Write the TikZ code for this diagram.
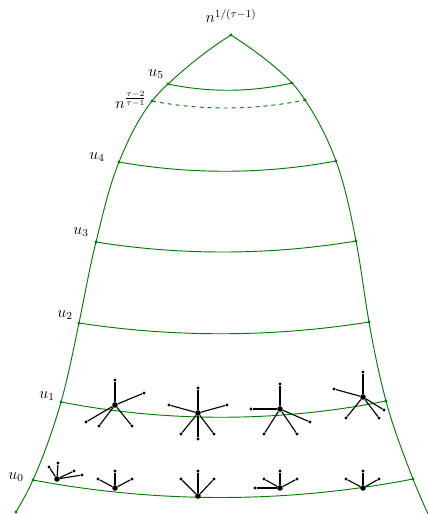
\documentclass[tikz,border=0pt]{standalone}
\usetikzlibrary{calc}
\definecolor{gr}{RGB}{0,125,0}
\tikzset{
  gline/.style={gr, line width=0.7pt},
  gdot/.style={circle, fill=gr, inner sep=0pt, minimum size=2.3pt},
  hub/.style={circle, fill=black, inner sep=0pt, minimum size=4.2pt},
  leaf/.style={circle, fill=black, inner sep=0pt, minimum size=2.3pt},
  edge/.style={black, line width=0.85pt},
  lab/.style={inner sep=1pt, font=\large}
}
\newcommand{\band}[4]{% left, right, sag-control y, style
  \draw[gline,#4] (#1) .. controls ($(#1)!0.33!(#2)+(0,#3)$) and ($(#1)!0.67!(#2)+(0,#3)$) .. (#2);}
\begin{document}
\begin{tikzpicture}[x=0.75pt,y=-0.75pt]
\useasboundingbox (0,0) rectangle (428,514);
% boundary points
\coordinate (top) at (231,35);
\coordinate (L5) at (168,84);  \coordinate (R5) at (292,83);
\coordinate (Ld) at (152,101); \coordinate (Rd) at (305,100);
\coordinate (L4) at (119,162); \coordinate (R4) at (336,161);
\coordinate (L3) at (96,242);  \coordinate (R3) at (356,241);
\coordinate (L2) at (79,323);  \coordinate (R2) at (369,322);
\coordinate (L1) at (61,402);  \coordinate (R1) at (386,401);
\coordinate (L0) at (33,480);  \coordinate (R0) at (413,479);
\coordinate (Lb) at (16,512);  \coordinate (Rb) at (428,514);
\draw[gline] (top) .. controls (208.4,49.1) and (187.5,65.9) .. (L5)
  .. controls (162.3,89.3) and (156.8,94.9) .. (Ld)
  .. controls (137.8,119.2) and (127.7,140.6) .. (L4)
  .. controls (108.6,187.7) and (102.7,215.1) .. (L3)
  .. controls (89.3,268.8) and (84.7,296) .. (L2)
  .. controls (73.4,349.4) and (68.4,376) .. (L1)
  .. controls (53.4,428.5) and (44.2,454.8) .. (L0)
  .. controls (28.1,491.1) and (22.05,501.5) .. (Lb);
\draw[gline] (top) .. controls (252.7,49.1) and (274,64.4) .. (R5)
  .. controls (296.9,88.1) and (301,94.1) .. (Rd)
  .. controls (317.7,118.9) and (328.2,139.6) .. (R4)
  .. controls (345.4,186.8) and (350.8,214) .. (R3)
  .. controls (361.2,267.8) and (364.3,295.1) .. (R2)
  .. controls (373.7,348.5) and (379,375) .. (R1)
  .. controls (393.1,427.6) and (403.1,453.3) .. (R0)
  .. controls (417.6,490.9) and (422.8,502.4) .. (Rb);
% bands
\band{L5}{R5}{9}{}
\band{Ld}{Rd}{10}{dashed}
\band{L4}{R4}{13}{}
\band{L3}{R3}{14}{}
\band{L2}{R2}{15}{}
\band{L1}{R1}{21}{}
\band{L0}{R0}{24}{}
\foreach \p in {top,L5,R5,Ld,Rd,L4,R4,L3,R3,L2,R2,L1,R1,L0,R0,Lb}
  \node[gdot] at (\p) {};
% labels
\node[lab] (ltop) at (231,16) {$n^{1/(\tau-1)}$};
\node[lab] (l5) at (156,74) {$u_5$};
\node[lab] (ld) at (131,100) {$n^{\frac{\tau-2}{\tau-1}}$};
\node[lab] (l4) at (97,157) {$u_4$};
\node[lab] (l3) at (81,232) {$u_3$};
\node[lab] (l2) at (65,315) {$u_2$};
\node[lab] (l1) at (47,396) {$u_1$};
\node[lab] (l0) at (16,477) {$u_0$};
% trees on u1
\node[hub] (a) at (115,405) {};
\foreach \i/\q in {1/{115,380},2/{144,393},3/{86,422},4/{99,426},5/{132,426}}{
  \node[leaf] (a\i) at (\q) {}; \draw[edge] (a) -- (a\i);}
\node[hub] (b) at (198,413) {};
\foreach \i/\q in {1/{198,388},2/{169,405},3/{227,405},4/{181,434},5/{198,439},6/{214,434}}{
  \node[leaf] (b\i) at (\q) {}; \draw[edge] (b) -- (b\i);}
\node[hub] (c) at (280,409) {};
\foreach \i/\q in {1/{280,384},2/{251,409},3/{310,422},4/{264,434},5/{297,434}}{
  \node[leaf] (c\i) at (\q) {}; \draw[edge] (c) -- (c\i);}
\node[hub] (d) at (363,397) {};
\foreach \i/\q in {1/{363,372},2/{334,389},3/{384,410},4/{346,418},5/{379,418}}{
  \node[leaf] (d\i) at (\q) {}; \draw[edge] (d) -- (d\i);}
% trees on u0
\node[hub] (e) at (57,479) {};
\foreach \i/\q in {1/{58,463},2/{49,467},3/{74,471},4/{82,475}}{
  \node[leaf] (e\i) at (\q) {}; \draw[edge] (e) -- (e\i);}
\node[hub] (f) at (115,488) {};
\foreach \i/\q in {1/{115,471},2/{98,479},3/{132,479}}{
  \node[leaf] (f\i) at (\q) {}; \draw[edge] (f) -- (f\i);}
\node[hub] (g) at (198,496) {};
\foreach \i/\q in {1/{198,471},2/{181,479},3/{214,479}}{
  \node[leaf] (g\i) at (\q) {}; \draw[edge] (g) -- (g\i);}
\node[hub] (h) at (280,488) {};
\foreach \i/\q in {1/{280,471},2/{264,479},3/{297,479},4/{255,488}}{
  \node[leaf] (h\i) at (\q) {}; \draw[edge] (h) -- (h\i);}
\node[hub] (k) at (363,488) {};
\foreach \i/\q in {1/{363,471},2/{346,479},3/{379,479}}{
  \node[leaf] (k\i) at (\q) {}; \draw[edge] (k) -- (k\i);}
\end{tikzpicture}
\end{document}
